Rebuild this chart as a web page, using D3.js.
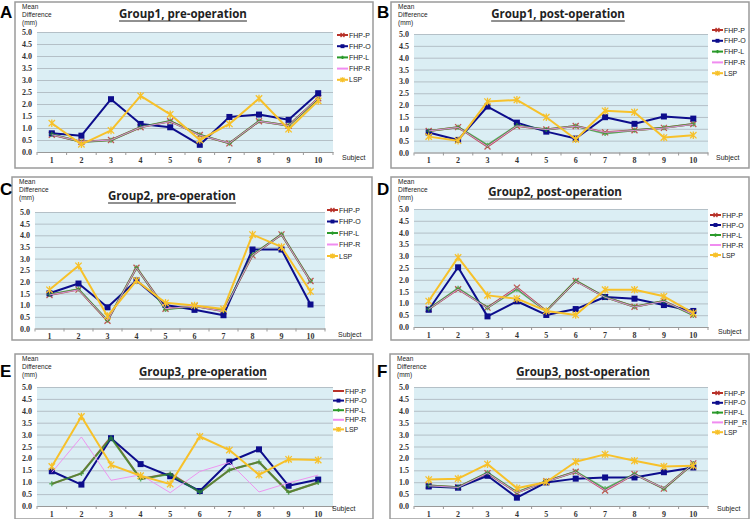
<!DOCTYPE html>
<html>
<head>
<meta charset="utf-8">
<script src="https://cdn.jsdelivr.net/npm/d3@7"></script>
<style>
  body { margin: 0; background: #fff; }
  svg { display: block; }
</style>
</head>
<body>
<svg id="chart" width="750" height="519"></svg>
<script>
// subjects and y ticks
var subjects = [1, 2, 3, 4, 5, 6, 7, 8, 9, 10];
var yTicks = [0, 0.5, 1, 1.5, 2, 2.5, 3, 3.5, 4, 4.5, 5];
var seriesNames = ["FHP-P", "FHP-O", "FHP-L", "FHP-R", "LSP"];
var seriesNamesF = ["FHP-P", "FHP-O", "FHP-L", "FHP_R", "LSP"];
var panelLetters = ["A", "B", "C", "D", "E", "F"];
var panelTitles = ["Group1, pre-operation", "Group1, post-operation",
                   "Group2, pre-operation", "Group2, post-operation",
                   "Group3, pre-operation", "Group3, post-operation"];

// A - group1 pre
var aFHPP = [0.72, 0.43, 0.50, 1.03, 1.28, 0.71, 0.36, 1.28, 1.10, 2.24];
var aFHPO = [0.78, 0.68, 2.20, 1.17, 1.03, 0.30, 1.46, 1.56, 1.34, 2.45];
var aFHPL = [0.74, 0.42, 0.49, 1.04, 1.29, 0.72, 0.36, 1.29, 1.09, 2.22];
var aFHPR = [0.72, 0.43, 0.50, 1.03, 1.27, 0.70, 0.37, 1.28, 1.10, 2.25];
var aLSP  = [1.20, 0.32, 0.90, 2.34, 1.57, 0.50, 1.17, 2.23, 0.95, 2.13];
// B - group1 post
var bFHPP = [0.91, 1.07, 0.25, 1.12, 0.97, 1.12, 0.85, 0.94, 1.04, 1.20];
var bFHPO = [0.84, 0.53, 1.94, 1.26, 0.88, 0.59, 1.49, 1.21, 1.52, 1.43];
var bFHPL = [0.91, 1.07, 0.31, 1.14, 0.97, 1.12, 0.80, 0.94, 1.04, 1.20];
var bFHPR = [0.91, 1.06, 0.26, 1.12, 0.97, 1.11, 0.85, 0.93, 1.03, 1.19];
var bLSP  = [0.67, 0.50, 2.15, 2.22, 1.49, 0.56, 1.76, 1.70, 0.63, 0.73];
// C - group2 pre
var cFHPP = [1.44, 1.67, 0.33, 2.61, 0.85, 0.96, 0.74, 3.14, 4.04, 2.04];
var cFHPO = [1.51, 1.93, 0.91, 2.06, 1.01, 0.80, 0.57, 3.39, 3.39, 1.03];
var cFHPL = [1.46, 1.69, 0.35, 2.61, 0.82, 0.97, 0.76, 3.16, 4.04, 2.05];
var cFHPR = [1.44, 1.66, 0.34, 2.60, 0.85, 0.96, 0.74, 3.14, 4.03, 2.03];
var cLSP  = [1.66, 2.69, 0.53, 2.06, 1.10, 0.99, 0.84, 4.03, 3.50, 1.59];
// D - group2 post
var dFHPP = [0.76, 1.60, 0.82, 1.67, 0.68, 1.95, 1.27, 0.86, 1.10, 0.52];
var dFHPO = [0.73, 2.53, 0.45, 1.09, 0.51, 0.76, 1.27, 1.20, 0.93, 0.68];
var dFHPL = [0.76, 1.64, 0.82, 1.60, 0.68, 1.96, 1.27, 0.86, 1.10, 0.49];
var dFHPR = [0.75, 1.60, 0.81, 1.66, 0.67, 1.94, 1.26, 0.85, 1.09, 0.52];
var dLSP  = [1.10, 2.95, 1.34, 1.20, 0.68, 0.51, 1.58, 1.58, 1.30, 0.59];
// E - group3 pre
var eFHPP = [0.93, 1.37, 2.90, 1.13, 1.37, 0.58, 1.51, 1.85, 0.58, 0.99];
var eFHPO = [1.46, 0.90, 2.85, 1.76, 1.25, 0.63, 1.86, 2.38, 0.85, 1.11];
var eFHPL = [0.93, 1.37, 2.86, 1.13, 1.34, 0.58, 1.51, 1.85, 0.58, 0.99];
var eFHPR = [1.41, 2.90, 1.08, 1.31, 0.56, 1.45, 1.83, 0.59, 0.97, 1.30];
var eLSP  = [1.66, 3.76, 1.73, 1.27, 0.92, 2.92, 2.35, 1.31, 1.96, 1.93];
// F - group3 post
var fFHPP = [0.86, 0.79, 1.38, 0.56, 1.04, 1.44, 0.65, 1.34, 0.73, 1.79];
var fFHPO = [0.82, 0.77, 1.27, 0.35, 0.99, 1.15, 1.20, 1.20, 1.42, 1.62];
var fFHPL = [0.86, 0.79, 1.40, 0.58, 1.04, 1.44, 0.72, 1.34, 0.73, 1.79];
var fFHPR = [0.85, 0.78, 1.38, 0.56, 1.03, 1.43, 0.66, 1.33, 0.74, 1.78];
var fLSP  = [1.11, 1.15, 1.76, 0.75, 1.01, 1.86, 2.17, 1.90, 1.66, 1.69];

var panelData = [
  [aFHPP, aFHPO, aFHPL, aFHPR, aLSP],
  [bFHPP, bFHPO, bFHPL, bFHPR, bLSP],
  [cFHPP, cFHPO, cFHPL, cFHPR, cLSP],
  [dFHPP, dFHPO, dFHPL, dFHPR, dLSP],
  [eFHPP, eFHPO, eFHPL, eFHPR, eLSP],
  [fFHPP, fFHPO, fFHPL, fFHPR, fLSP]
];

// layout of each panel (box, plot area, title, legend, letter)
var layout = [
  {box: [15, 2, 373, 168], plot: [37, 32, 333, 152], title: [183, 18], legend: [337, 35, 11.2], subj: [342, 160], letter: [0, 18]},
  {box: [391, 2, 749, 168], plot: [414, 34, 708, 152.5], title: [558, 18], legend: [712, 30, 10.8], subj: [716, 160], letter: [377, 18]},
  {box: [12, 177, 372, 340], plot: [35, 212, 325, 328.5], title: [172, 200], legend: [327, 210, 11.5], subj: [338, 337], letter: [0, 195]},
  {box: [391, 177, 749, 340], plot: [414, 209, 708, 327], title: [555, 196], legend: [710, 215, 10], subj: [718, 334], letter: [377, 195]},
  {box: [15, 354, 373, 519], plot: [37, 387, 333, 506], title: [203, 376], legend: [333, 391, 9.6], subj: [332, 511], letter: [0, 377]},
  {box: [390, 354, 749, 519], plot: [414, 387, 708, 506], title: [583, 376], legend: [712, 393, 9.8], subj: [717, 511], letter: [377, 377]}
];

var colors = ["#b8322a", "#0d0d8c", "#2a9a2a", "#f08cf0", "#f7c12a"];
var widths = [2, 2, 2, 1, 2];
var opac = [0.8, 1, 0.7, 0.9, 1];
var markers = ["x", "square", "plus", "none", "star"];

var svg = d3.select("#chart");

function drawMarker(g, type, x, y, color, s) {
  s = s || 1;
  if (type === "square") {
    g.append("rect").attr("x", x - 3 * s).attr("y", y - 3 * s).attr("width", 6 * s).attr("height", 6 * s).attr("fill", color);
  } else if (type === "x") {
    var a = 3 * s;
    g.append("path").attr("d", "M" + (x - a) + "," + (y - a) + "L" + (x + a) + "," + (y + a) + "M" + (x - a) + "," + (y + a) + "L" + (x + a) + "," + (y - a))
      .attr("stroke", color).attr("stroke-width", 1.3);
  } else if (type === "plus") {
    var b = 2.5 * s;
    g.append("path").attr("d", "M" + (x - b) + "," + y + "L" + (x + b) + "," + y + "M" + x + "," + (y - b) + "L" + x + "," + (y + b))
      .attr("stroke", color).attr("stroke-width", 1.5);
  } else if (type === "star") {
    var c = 3.2 * s, h = 3.8 * s;
    g.append("path").attr("d", "M" + (x - c) + "," + (y - c) + "L" + (x + c) + "," + (y + c) + "M" + (x - c) + "," + (y + c) + "L" + (x + c) + "," + (y - c) + "M" + x + "," + (y - h) + "L" + x + "," + (y + h))
      .attr("stroke", color).attr("stroke-width", 1.3);
  }
}

layout.forEach(function (L, pi) {
  var g = svg.append("g");
  var series = panelData[pi];

  g.append("rect")
    .attr("x", L.box[0]).attr("y", L.box[1])
    .attr("width", L.box[2] - L.box[0]).attr("height", L.box[3] - L.box[1])
    .attr("fill", "#fff").attr("stroke", "#9a9a9a").attr("stroke-width", 1.5);

  var x = d3.scaleBand().domain(subjects).range([L.plot[0], L.plot[2]]);
  var y = d3.scaleLinear().domain([0, 5]).range([L.plot[3], L.plot[1]]);

  g.append("rect")
    .attr("x", L.plot[0]).attr("y", L.plot[1])
    .attr("width", L.plot[2] - L.plot[0]).attr("height", L.plot[3] - L.plot[1])
    .attr("fill", "#dbeef4");

  // gridlines + y labels
  var yAxis = g.append("g")
    .attr("transform", "translate(" + L.plot[0] + ",0)")
    .call(d3.axisLeft(y).tickValues(yTicks).tickFormat(d3.format(".1f"))
      .tickSize(-(L.plot[2] - L.plot[0])).tickPadding(5));
  yAxis.select(".domain").remove();
  yAxis.selectAll("line").attr("stroke", "#a9b4bb").attr("stroke-width", 0.8);
  yAxis.selectAll("text").attr("font-family", "Liberation Serif").attr("font-size", 8)
    .attr("font-weight", "bold").attr("fill", "#333");

  // x axis
  var xAxis = g.append("g")
    .attr("transform", "translate(0," + L.plot[3] + ")")
    .call(d3.axisBottom(x).tickSize(0).tickPadding(5));
  xAxis.select(".domain").attr("stroke", "#999");
  xAxis.selectAll("text").attr("font-family", "Liberation Serif").attr("font-size", 8)
    .attr("font-weight", "bold").attr("fill", "#333");
  g.selectAll(".xtick").data(subjects.concat([11])).enter().append("line")
    .attr("x1", function (d) { return d === 11 ? L.plot[2] : x(d); })
    .attr("x2", function (d) { return d === 11 ? L.plot[2] : x(d); })
    .attr("y1", L.plot[3]).attr("y2", L.plot[3] + 3)
    .attr("stroke", "#999");

  // series
  series.forEach(function (vals, si) {
    var mk = markers[si];
    if (pi === 4 && si === 0) mk = "none";
    var line = d3.line()
      .x(function (d, i) { return x(subjects[i]) + x.bandwidth() / 2; })
      .y(function (d) { return y(d); });
    var sg = g.append("g").attr("opacity", opac[si]);
    sg.append("path").datum(vals)
      .attr("d", line).attr("fill", "none")
      .attr("stroke", colors[si]).attr("stroke-width", widths[si]).attr("stroke-linejoin", "round");
    vals.forEach(function (v, i) {
      drawMarker(sg, mk, x(subjects[i]) + x.bandwidth() / 2, y(v), colors[si]);
    });
  });

  // legend
  var names = pi === 5 ? seriesNamesF : seriesNames;
  names.forEach(function (nm, si) {
    var ly = L.legend[1] + si * L.legend[2];
    var lg = g.append("g");
    var mk = markers[si];
    if (pi === 4 && si === 0) mk = "none";
    lg.append("line").attr("x1", L.legend[0]).attr("x2", L.legend[0] + 11)
      .attr("y1", ly).attr("y2", ly).attr("stroke", colors[si]).attr("stroke-width", 2);
    drawMarker(lg, mk, L.legend[0] + 5.5, ly, colors[si], 0.65);
    lg.append("text").attr("x", L.legend[0] + 12).attr("y", ly + 2.5)
      .attr("font-family", "Liberation Sans").attr("font-size", 7).attr("fill", "#222").text(nm);
  });

  // y axis title
  ["Mean", "Difference", "(mm)"].forEach(function (t, i) {
    g.append("text").attr("x", L.box[0] + 7).attr("y", L.box[1] + 7 + i * 8)
      .attr("font-family", "Liberation Sans").attr("font-size", 6.5).attr("fill", "#222").text(t);
  });

  g.append("text").attr("x", L.subj[0]).attr("y", L.subj[1])
    .attr("font-family", "Liberation Sans").attr("font-size", 7).attr("fill", "#222").text("Subject");

  // title
  var title = g.append("text").attr("x", L.title[0]).attr("y", L.title[1])
    .attr("text-anchor", "middle").attr("font-family", "Open Sans").attr("font-weight", "bold")
    .attr("font-size", 11.5).attr("fill", "#222").text(panelTitles[pi]);
  var bb = title.node().getBBox();
  g.append("line").attr("x1", bb.x).attr("x2", bb.x + bb.width)
    .attr("y1", L.title[1] + 3).attr("y2", L.title[1] + 3).attr("stroke", "#222").attr("stroke-width", 1);

  svg.append("text").attr("x", L.letter[0]).attr("y", L.letter[1])
    .attr("font-family", "Liberation Sans").attr("font-weight", "bold").attr("font-size", 17)
    .attr("fill", "#000").text(panelLetters[pi]);
});
</script>
</body>
</html>
